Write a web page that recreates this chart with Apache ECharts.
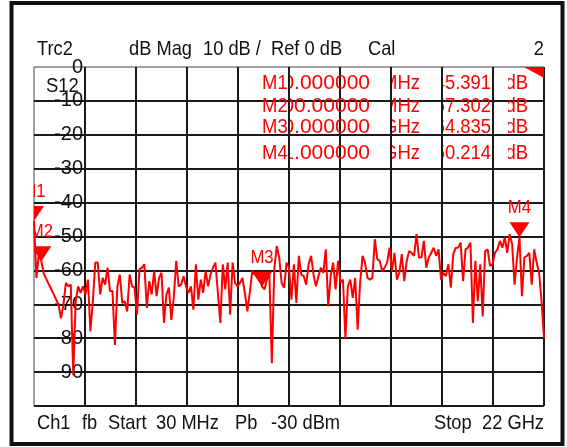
<!DOCTYPE html>
<html>
<head>
<meta charset="utf-8">
<script src="https://cdn.jsdelivr.net/npm/echarts@6/dist/echarts.min.js"></script>
<style>
html, body { margin: 0; padding: 0; background: #fff; }
#chart { width: 567px; height: 447px; }
</style>
</head>
<body>
<div id="chart"></div>
<script>
// S12 trace, dB per sweep point (30 MHz .. 22 GHz)
const traceDb = [
    -45.4, -62.2, -55.0, -57.3, -61.0, -62.5, -64.0, -65.5, -67.0, -68.5,
    -70.1, -74.1, -70.1, -63.7, -64.7, -64.2, -90.9, -69.1, -64.7, -66.6,
    -64.7, -67.1, -62.7, -78.0, -69.1, -57.7, -57.7, -67.1, -62.2, -64.2,
    -59.2, -66.1, -66.1, -82.0, -64.7, -61.2, -69.6, -69.1, -72.1, -61.2,
    -64.7, -65.1, -73.1, -59.7, -59.2, -58.2, -71.1, -63.2, -67.1, -60.2,
    -67.6, -62.2, -60.7, -75.5, -67.1, -65.1, -74.6, -68.1, -57.2, -64.7,
    -64.2, -61.7, -64.7, -66.6, -64.7, -71.6, -58.2, -68.6, -62.7, -66.6,
    -60.2, -64.7, -61.2, -59.2, -57.7, -66.6, -75.5, -58.2, -65.6, -57.7,
    -73.1, -57.7, -63.7, -64.7, -63.7, -62.2, -66.6, -72.1, -66.6, -60.2,
    -61.2, -60.7, -61.7, -64.8, -65.6, -62.7, -61.2, -87.4, -59.7, -52.8,
    -56.2, -63.7, -65.1, -57.7, -59.2, -68.6, -58.2, -69.6, -55.7, -61.2,
    -61.7, -64.2, -58.2, -55.7, -61.2, -64.7, -61.7, -59.2, -60.7, -53.8,
    -70.6, -61.7, -57.7, -65.6, -57.2, -63.7, -62.7, -80.0, -64.7, -62.7,
    -68.1, -62.2, -77.5, -63.7, -55.7, -57.7, -62.2, -62.7, -62.2, -50.8,
    -56.7, -57.2, -60.2, -59.2, -57.7, -53.3, -60.2, -54.8, -62.7, -60.7,
    -55.2, -63.2, -57.2, -54.3, -54.8, -55.7, -49.3, -56.2, -56.2, -51.3,
    -59.2, -56.2, -54.8, -53.3, -55.7, -53.8, -62.7, -60.7, -61.7, -58.2,
    -65.1, -55.2, -53.3, -53.3, -51.8, -63.2, -53.8, -53.3, -51.8, -75.5,
    -57.2, -69.1, -58.2, -73.6, -54.3, -53.8, -58.7, -58.2, -54.8, -53.8,
    -51.3, -53.3, -50.3, -54.8, -49.3, -52.3, -64.2, -56.2, -50.2, -67.6,
    -56.2, -55.7, -54.8, -64.2, -53.8, -57.7, -60.7, -69.1, -80.0
]
const yTickLabels = [0, -10, -20, -30, -40, -50, -60, -70, -80, -90]

// markers
const markerNames = ['M1', 'M2', 'M3', 'M4']
const markerPoint = [0, 3, 93, 198]
const markerFreq = ['30.000000', '100.00000', '10.000000', '21.000000']
const markerUnit = ['MHz', 'MHz', 'GHz', 'GHz']
const markerVal = ['-45.391', '-57.302', '-64.835', '-50.214']

// header / footer
const headerText = ['Trc2', 'dB Mag', '10 dB /', 'Ref 0 dB', 'Cal']
const headerX = [37, 129, 203, 271, 368]
const footerText = ['Ch1', 'fb', 'Start', '30 MHz', 'Pb', '-30 dBm', 'Stop']
const footerX = [37, 82, 108, 156, 235, 271, 434]

const RED = '#ff0000'
const INK = '#111'
const FAMILY = "'Liberation Sans', Arial, sans-serif"

function txt(text, x, y, align, opts) {
    const o = opts || {}
    return {
        type: 'text',
        x: x,
        y: y,
        z: 100,
        scaleX: o.sx || 0.87,
        style: {
            text: text,
            fill: o.color || INK,
            font: (o.size || 21) + 'px ' + FAMILY,
            textAlign: align,
            align: align,
            textVerticalAlign: 'middle',
            verticalAlign: 'middle'
        }
    }
}

const graphics = [
    // outer frame
    {
        type: 'rect',
        z: 100,
        shape: { x: 11.5, y: 3, width: 551, height: 441 },
        style: { fill: 'none', stroke: INK, lineWidth: 4 }
    },
    // corner flag
    {
        type: 'polygon',
        z: 100,
        shape: { points: [[524, 67], [544, 67], [544, 78]] },
        style: { fill: RED }
    },
    txt('S12', 46, 86, 'left', { sx: 0.88 }),
    txt('2', 544, 49, 'right'),
    txt('22 GHz', 544, 423, 'right')
]
headerText.forEach((t, i) => graphics.push(txt(t, headerX[i], 49, 'left')))
footerText.forEach((t, i) => graphics.push(txt(t, footerX[i], 423, 'left')))

// marker table, each column clipped on its left side like the analyser does
const rowY = [83, 106, 127, 153]
const tableCols = [
    { list: markerFreq, right: 370, clip: 290, size: 21, sx: 1 },
    { list: markerUnit, right: 420, clip: 392, size: 21, sx: 0.88 },
    { list: markerVal, right: 491, clip: 443, size: 20, sx: 0.92 },
    { list: markerNames.map(() => 'dB'), right: 528, clip: 508, size: 21, sx: 0.88 }
]

const chart = echarts.init(document.getElementById('chart'))
const option = {
    animation: false,
    backgroundColor: '#fff',
    grid: {
        left: 34,
        top: 67,
        right: 23,
        bottom: 41,
        show: true,
        borderColor: '#444',
        borderWidth: 1,
        outerBoundsMode: 'none'
    },
    xAxis: {
        type: 'value',
        min: 0,
        max: traceDb.length - 1,
        interval: (traceDb.length - 1) / 10,
        axisLine: { show: false },
        axisTick: { show: false },
        axisLabel: { show: false },
        splitLine: {
            show: true,
            showMinLine: false,
            lineStyle: { color: '#1a1a1a', width: 2 }
        }
    },
    yAxis: {
        type: 'value',
        min: -100,
        max: 0,
        interval: 10,
        axisLine: { show: false },
        axisTick: { show: false },
        axisLabel: {
            margin: -49,
            align: 'right',
            color: INK,
            fontSize: 20,
            fontFamily: FAMILY,
            formatter: (v) => (yTickLabels.indexOf(v) >= 0 ? String(v) : '')
        },
        splitLine: {
            show: true,
            showMaxLine: false,
            lineStyle: { color: '#1a1a1a', width: 2 }
        }
    },
    graphic: graphics,
    series: [
        {
            name: 'Trc2 S12',
            type: 'line',
            data: traceDb.map((v, i) => [i, v]),
            showSymbol: false,
            symbol: 'none',
            clip: true,
            lineStyle: { color: RED, width: 2 },
            z: 5
        },
        // marker triangles + labels
        {
            type: 'custom',
            clip: true,
            z: 6,
            data: markerPoint.map((k) => [k, traceDb[k]]),
            renderItem: function (params, api) {
                const p = api.coord([api.value(0), api.value(1)])
                return {
                    type: 'group',
                    children: [
                        {
                            type: 'polygon',
                            shape: {
                                points: [
                                    [p[0] - 10, p[1] - 15],
                                    [p[0] + 10, p[1] - 15],
                                    [p[0], p[1]]
                                ]
                            },
                            style: { fill: RED }
                        },
                        {
                            type: 'text',
                            x: p[0],
                            y: p[1] - 29,
                            scaleX: 0.88,
                            style: {
                                text: markerNames[params.dataIndex],
                                fill: RED,
                                font: '19px ' + FAMILY,
                                textAlign: 'center',
                                align: 'center',
                                textVerticalAlign: 'middle',
                                verticalAlign: 'middle'
                            }
                        }
                    ]
                }
            }
        },
        // marker table
        {
            type: 'custom',
            coordinateSystem: 'none',
            z: 7,
            data: markerNames.map((n, i) => [i]),
            renderItem: function (params) {
                const i = params.dataIndex
                const y = rowY[i]
                const children = [
                    {
                        type: 'text',
                        x: 262,
                        y: y,
                        scaleX: 0.88,
                        style: {
                            text: markerNames[i],
                            fill: RED,
                            font: '21px ' + FAMILY,
                            textAlign: 'left',
                            align: 'left',
                            textVerticalAlign: 'middle',
                            verticalAlign: 'middle'
                        }
                    }
                ]
                tableCols.forEach((c) => {
                    children.push({
                        type: 'text',
                        x: c.right,
                        y: y,
                        scaleX: c.sx,
                        style: {
                            text: c.list[i],
                            fill: RED,
                            font: c.size + 'px ' + FAMILY,
                            textAlign: 'right',
                            align: 'right',
                            textVerticalAlign: 'middle',
                            verticalAlign: 'middle'
                        },
                        clipPath: {
                            type: 'rect',
                            shape: {
                                x: (c.clip - c.right) / c.sx,
                                y: -20,
                                width: (c.right - c.clip + 10) / c.sx,
                                height: 40
                            }
                        }
                    })
                })
                return { type: 'group', children: children }
            }
        }
    ]
}
chart.setOption(option)
</script>
</body>
</html>
